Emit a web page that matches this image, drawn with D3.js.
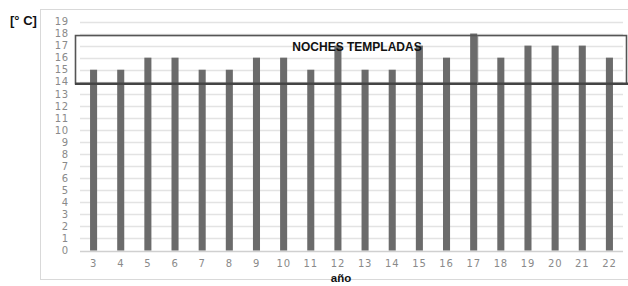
<!DOCTYPE html>
<html>
<head>
<meta charset="utf-8">
<script src="https://cdnjs.cloudflare.com/ajax/libs/d3/7.8.5/d3.min.js"></script>
<style>
  body { margin: 0; background: #fff; }
  svg { display: block; }
</style>
</head>
<body>
<div id="chart"></div>
<script>
(function () {
    "use strict";

    // data
    const years = [3, 4, 5, 6, 7, 8, 9, 10, 11, 12, 13, 14, 15, 16, 17, 18, 19, 20, 21, 22];
    const temps = [15, 15, 16, 16, 15, 15, 16, 16, 15, 17, 15, 15, 17, 16, 18, 16, 17, 17, 17, 16];
    const yTicks = d3.range(0, 20);
    const bandLimits = [14, 18];
    const bandLabel = "NOCHES TEMPLADAS";

    const width = 628, height = 286;
    const svg = d3.select("#chart").append("svg").attr("width", width).attr("height", height);

    // outer frame
    svg.append("rect")
        .attr("x", 40.5).attr("y", 9.5)
        .attr("width", 600).attr("height", 270)
        .attr("fill", "none").attr("stroke", "#d9d9d9");

    let x = d3.scaleBand().domain(years).range([80, 623]).paddingInner(0.74).paddingOuter(0.37);
    let y = d3.scaleLinear().domain([0, 19]).range([250.5, 21.5]);

    // gridlines
    svg.append("g")
        .selectAll("line")
        .data(yTicks)
        .enter()
        .append("line")
        .attr("x1", 80).attr("x2", 623)
        .attr("y1", (d) => Math.round(y(d)) + 0.5)
        .attr("y2", (d) => Math.round(y(d)) + 0.5)
        .attr("stroke", (d) => (d === 0 ? "#d0d0d0" : "#e3e3e3"))
        .attr("stroke-width", 1.3);

    let tickFont = (sel) => sel
        .attr("fill", "#8a8a8a")
        .style("font-family", "'DejaVu Sans', sans-serif")
        .style("font-size", "10px")
        .style("letter-spacing", "0.8px");

    // y axis
    let yAxis = d3.axisLeft(y).tickValues(yTicks).tickSize(0).tickPadding(0);
    let gy = svg.append("g").attr("transform", "translate(69,0)").call(yAxis);
    gy.select(".domain").remove();
    gy.selectAll("text").call(tickFont);

    // x axis
    let xAxis = d3.axisBottom(x).tickSize(0).tickPadding(0);
    let gx = svg.append("g").attr("transform", "translate(0,260)").call(xAxis);
    gx.select(".domain").remove();
    gx.selectAll("text").call(tickFont);

    // bars
    svg.append("g")
        .selectAll("rect")
        .data(years)
        .enter()
        .append("rect")
        .attr("x", (d) => x(d))
        .attr("width", x.bandwidth())
        .attr("y", (d, i) => y(temps[i]))
        .attr("height", (d, i) => y(0) - y(temps[i]))
        .attr("fill", "#6b6b6b");

    // "noches templadas" box
    let boxTop = y(bandLimits[1]) + 2;
    let boxBottom = y(bandLimits[0]) + 2;
    svg.append("rect")
        .attr("x", 75.5).attr("y", boxTop)
        .attr("width", 551).attr("height", boxBottom - boxTop)
        .attr("fill", "none").attr("stroke", "#555").attr("stroke-width", 1.6);
    svg.append("line")
        .attr("x1", 75).attr("x2", width)
        .attr("y1", boxBottom).attr("y2", boxBottom)
        .attr("stroke", "#444").attr("stroke-width", 2.4);
    svg.append("line")
        .attr("x1", x(17) + x.bandwidth() + 0.5).attr("x2", x(17) + x.bandwidth() + 0.5)
        .attr("y1", boxTop).attr("y2", boxBottom)
        .attr("stroke", "#777").attr("stroke-width", 1);

    svg.append("text")
        .attr("x", 357).attr("y", 51)
        .attr("text-anchor", "middle")
        .style("font-family", "'Liberation Sans', Arial, sans-serif")
        .style("font-weight", "bold")
        .style("font-size", "12px")
        .attr("fill", "#111")
        .text(bandLabel);

    // axis titles
    svg.append("text")
        .attr("x", 10).attr("y", 25)
        .style("font-family", "'Liberation Sans', Arial, sans-serif")
        .style("font-weight", "bold")
        .style("font-size", "13px")
        .attr("fill", "#111")
        .text("[° C]");

    svg.append("text")
        .attr("x", 341).attr("y", 282)
        .attr("text-anchor", "middle")
        .style("font-family", "'Liberation Sans', Arial, sans-serif")
        .style("font-weight", "bold")
        .style("font-size", "11.5px")
        .attr("fill", "#111")
        .text("año");
})();
</script>
</body>
</html>
